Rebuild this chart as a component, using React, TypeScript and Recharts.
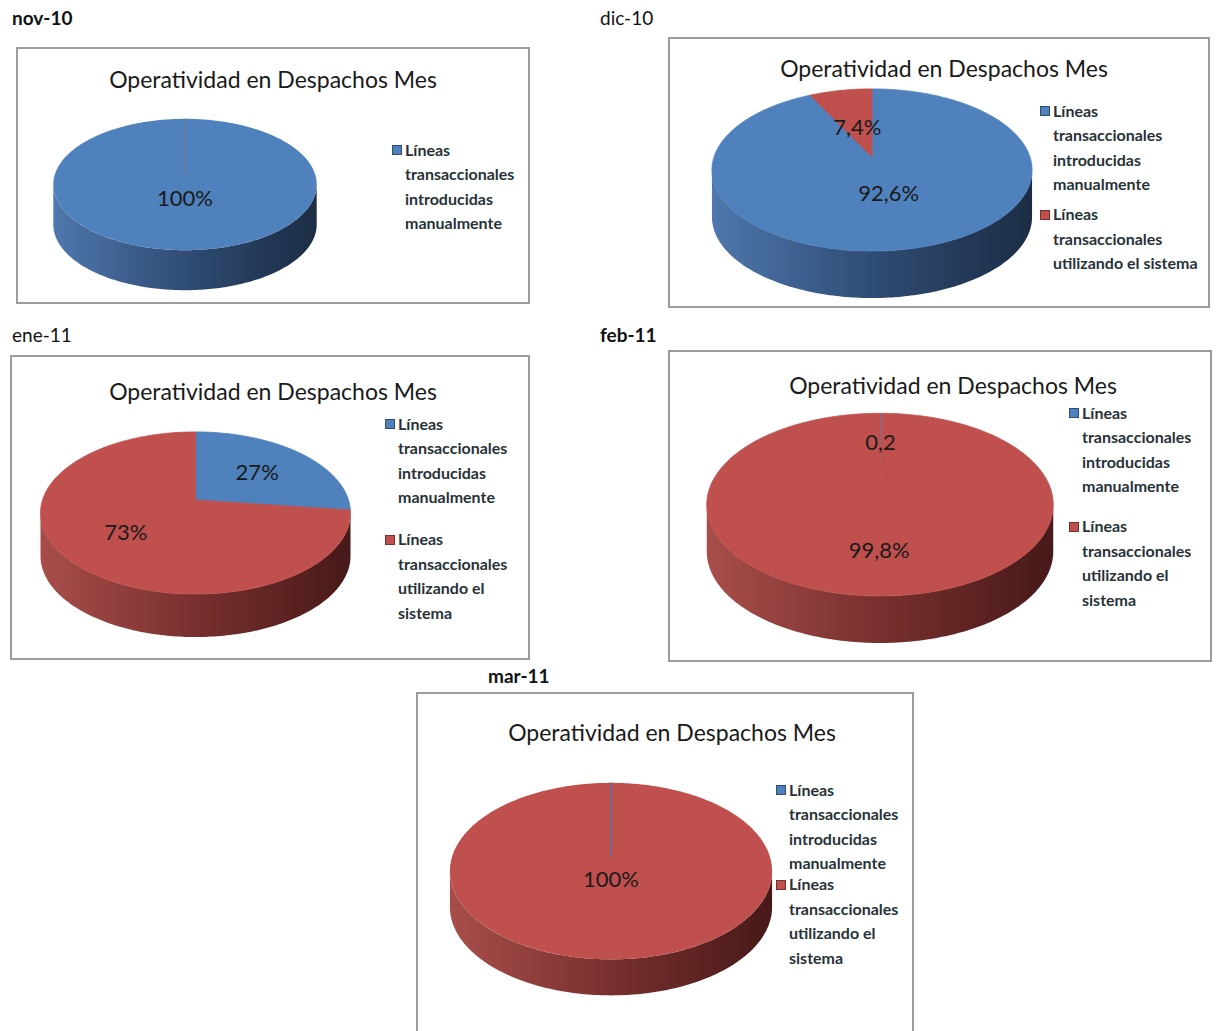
import React from "react";
import { PieChart, Pie, Cell, Legend } from "recharts";

const SERIES = [
  "Líneas transaccionales introducidas manualmente",
  "Líneas transaccionales utilizando el sistema",
];
const COLORS = ["#4f81bd", "#c0504d"];
const SIDE_COLORS = [
  ["#4f78ae", "#2f4c74", "#1c2c44"],
  ["#a84e4b", "#78302e", "#461918"],
];
const TITLE = "Operatividad en Despachos Mes";

const nov10Values = [100];
const nov10Labels = ["100%"];
const dic10Values = [92.6, 7.4];
const dic10Labels = ["92,6%", "7,4%"];
const ene11Values = [27, 73];
const ene11Labels = ["27%", "73%"];
const feb11Values = [0.2, 99.8];
const feb11Labels = ["0,2", "99,8%"];
const mar11Values = [0, 100];
const mar11Labels = ["", "100%"];

const FONT = "Lato, 'Open Sans', sans-serif";
const LINE_H = 24.4;
const PERSP = 0.16;
// angle where the side wall turns away from the viewer
const EDGE = (Math.asin(PERSP) * 180) / Math.PI;

type Geo = { cx: number; cy: number; rx: number; ry: number };

const panels = [
  {
    id: "nov10", month: "nov-10", bold: true, monthX: 12, monthY: 18,
    values: nov10Values, labels: nov10Labels,
    box: { x: 16, y: 47, w: 514, h: 257 }, titleX: 257, titleY: 32,
    pie: { cx: 169, cy: 127, rx: 130, ry: 64, depth: 40, labelR: 0.34, seam: "#6d7b91" },
    legend: { x: 376, y: 103, gap: 0, wrap: [[1, 1, 1, 1], [1, 1, 2, 1]] },
  },
  {
    id: "dic10", month: "dic-10", bold: false, monthX: 600, monthY: 18,
    values: dic10Values, labels: dic10Labels,
    box: { x: 668, y: 37, w: 542, h: 271 }, titleX: 276, titleY: 31,
    pie: { cx: 204, cy: 120, rx: 158, ry: 79, depth: 47, labelR: 0.43, seam: "#6d7b91" },
    legend: { x: 372, y: 74, gap: 6, wrap: [[1, 1, 1, 1], [1, 1, 3]] },
  },
  {
    id: "ene11", month: "ene-11", bold: false, monthX: 12, monthY: 335,
    values: ene11Values, labels: ene11Labels,
    box: { x: 10, y: 355, w: 520, h: 305 }, titleX: 263, titleY: 36,
    pie: { cx: 185.5, cy: 145, rx: 153, ry: 79, depth: 43, labelR: 0.57, seam: "#6d7b91" },
    legend: { x: 375, y: 69, gap: 18, wrap: [[1, 1, 1, 1], [1, 1, 2, 1]] },
  },
  {
    id: "feb11", month: "feb-11", bold: true, monthX: 600, monthY: 335,
    values: feb11Values, labels: feb11Labels,
    box: { x: 668, y: 350, w: 544, h: 312 }, titleX: 285, titleY: 35,
    pie: { cx: 212, cy: 140, rx: 171, ry: 89, depth: 47, labelR: 0.6, seam: "#5a6f96" },
    legend: { x: 401, y: 63, gap: 16, wrap: [[1, 1, 1, 1], [1, 1, 2, 1]] },
  },
  {
    id: "mar11", month: "mar-11", bold: true, monthX: 488, monthY: 676,
    values: mar11Values, labels: mar11Labels,
    box: { x: 416, y: 692, w: 498, h: 345 }, titleX: 256, titleY: 40,
    pie: { cx: 195, cy: 165, rx: 159, ry: 86, depth: 36, labelR: 0.24, seam: "#55709a" },
    legend: { x: 360, y: 98, gap: -3, wrap: [[1, 1, 1, 1], [1, 1, 2, 1]] },
  },
];

type Panel = (typeof panels)[number];

const project = (g: Geo, r: number, deg: number): [number, number] => {
  const a = (deg * Math.PI) / 180;
  const X = r * Math.cos(a);
  const Z = -r * Math.sin(a);
  const s = 1 / (1 - PERSP * Z);
  return [g.cx + g.rx * X * s, g.cy + g.ry * Z * s];
};

const arc = (g: Geo, from: number, to: number) => {
  const n = Math.max(2, Math.ceil(Math.abs(to - from)));
  const pts: [number, number][] = [];
  for (let i = 0; i <= n; i++) pts.push(project(g, 1, from + ((to - from) * i) / n));
  return pts;
};

const toPath = (pts: [number, number][]) =>
  pts.map(([x, y], i) => `${i ? "L" : "M"}${x.toFixed(2)},${y.toFixed(2)}`).join("");

/** top face of one slice */
const makeTop = (panel: Panel) => (props: any) => {
  const { cx, cy, outerRadius, startAngle, endAngle, fill } = props;
  const g = { cx, cy, rx: outerRadius, ry: panel.pie.ry };
  const span = Math.abs(startAngle - endAngle);
  const start = project(g, 1, startAngle);
  if (span >= 359.9) {
    return (
      <g>
        <path d={toPath(arc(g, 90, -270)) + "Z"} fill={fill} />
        <line x1={cx} y1={cy} x2={start[0]} y2={start[1]} stroke={panel.pie.seam} strokeWidth={1.5} />
      </g>
    );
  }
  if (span < 0.01) {
    return <line x1={cx} y1={cy} x2={start[0]} y2={start[1]} stroke={fill} strokeWidth={1.5} />;
  }
  const pts = arc(g, startAngle, endAngle);
  return (
    <path
      d={`M${cx},${cy}` + toPath(pts).replace(/^M/, "L") + "Z"}
      fill={fill}
      stroke={fill}
      strokeWidth={0.8}
      strokeLinejoin="round"
    />
  );
};

/** visible side wall of one slice */
const makeSide = (panel: Panel) => (props: any) => {
  const { cx, cy, outerRadius, startAngle, endAngle, fill } = props;
  const lo = Math.max(Math.min(startAngle, endAngle), -180 + EDGE);
  const hi = Math.min(Math.max(startAngle, endAngle), -EDGE);
  if (hi - lo <= 0) return <g />;
  const g = { cx, cy, rx: outerRadius, ry: panel.pie.ry };
  const top = arc(g, lo, hi);
  const bottom = top.map(([x, y]) => [x, y + panel.pie.depth] as [number, number]).reverse();
  const ci = Math.max(0, COLORS.indexOf(fill));
  const gid = `${panel.id}-side-${ci}`;
  const stops = SIDE_COLORS[ci];
  return (
    <g>
      <defs>
        <linearGradient
          id={gid}
          gradientUnits="userSpaceOnUse"
          x1={cx - outerRadius * 1.02}
          x2={cx + outerRadius * 1.02}
          y1={0}
          y2={0}
        >
          <stop offset="0" stopColor={stops[0]} />
          <stop offset="0.5" stopColor={stops[1]} />
          <stop offset="1" stopColor={stops[2]} />
        </linearGradient>
      </defs>
      <path d={toPath([...top, ...bottom]) + "Z"} fill={`url(#${gid})`} />
    </g>
  );
};

const makeLabel = (panel: Panel) => (props: any) => {
  const { cx, cy, midAngle, outerRadius, index } = props;
  const text = panel.labels[index];
  if (!text) return null;
  const [x, y] = project({ cx, cy, rx: outerRadius, ry: panel.pie.ry }, panel.pie.labelR, midAngle);
  return (
    <text
      x={x}
      y={y}
      textAnchor="middle"
      dominantBaseline="central"
      fontFamily={FONT}
      fontSize={22}
      fill="#1a1a1a"
    >
      {text}
    </text>
  );
};

const splitLines = (name: string, counts: number[]) => {
  const words = name.split(" ");
  const lines: string[] = [];
  let k = 0;
  counts.forEach((c) => {
    lines.push(words.slice(k, k + c).join(" "));
    k += c;
  });
  return lines;
};

const makeLegend = (panel: Panel) => (props: any) => {
  const payload = props.payload || [];
  // one entry per series (both pies report the same names)
  const names: string[] = [];
  payload.forEach((entry: any) => {
    const n = String(entry.value);
    if (entry.type !== "none" && SERIES.includes(n) && !names.includes(n)) names.push(n);
  });
  return (
    <div style={{ fontFamily: FONT, fontSize: 16, fontWeight: 700, color: "#263238" }}>
      {names.map((name, i) => {
        const si = SERIES.indexOf(name);
        const lines = splitLines(name, panel.legend.wrap[si]);
        return (
          <div key={name} style={{ position: "relative", paddingLeft: 13, marginTop: i ? panel.legend.gap : 0 }}>
            <span
              style={{
                position: "absolute",
                left: 0,
                top: (LINE_H - 10) / 2,
                width: 8,
                height: 8,
                background: COLORS[si],
                border: `1px solid ${SIDE_COLORS[si][1]}`,
              }}
            />
            {lines.map((l, j) => (
              <div key={j} style={{ height: LINE_H, lineHeight: `${LINE_H}px`, whiteSpace: "nowrap" }}>
                {l}
              </div>
            ))}
          </div>
        );
      })}
    </div>
  );
};

const PanelChart: React.FC<{ panel: Panel }> = ({ panel }) => {
  const data = panel.values.map((v, i) => ({ name: SERIES[i], value: v }));
  const { box, pie } = panel;
  return (
    <>
      <div
        style={{
          position: "absolute",
          left: panel.monthX,
          top: panel.monthY - 11,
          height: 22,
          lineHeight: "22px",
          fontFamily: FONT,
          fontSize: 19,
          fontWeight: panel.bold ? 700 : 400,
          color: "#111",
          whiteSpace: "nowrap",
        }}
      >
        {panel.month}
      </div>
      <div
        style={{
          position: "absolute",
          left: box.x,
          top: box.y,
          width: box.w,
          height: box.h,
          boxSizing: "border-box",
          border: "2px solid #9c9c9c",
          background: "#fff",
        }}
      />
      <div style={{ position: "absolute", left: box.x, top: box.y, width: box.w, height: box.h }}>
        <div
          style={{
            position: "absolute",
            left: panel.titleX - 200,
            width: 400,
            top: panel.titleY - 15,
            height: 30,
            lineHeight: "30px",
            textAlign: "center",
            fontFamily: FONT,
            fontSize: 23,
            color: "#1a1a1a",
            zIndex: 2,
          }}
        >
          {TITLE}
        </div>
        <PieChart width={box.w} height={box.h} margin={{ top: 0, right: 0, bottom: 0, left: 0 }}>
          <Pie
            data={data}
            dataKey="value"
            nameKey="name"
            cx={pie.cx}
            cy={pie.cy}
            outerRadius={pie.rx}
            startAngle={90}
            endAngle={-270}
            legendType="none"
            isAnimationActive={false}
            shape={makeSide(panel)}
            inactiveShape={makeSide(panel)}
            activeShape={makeSide(panel)}
          >
            {data.map((d, i) => (
              <Cell key={i} fill={COLORS[i]} />
            ))}
          </Pie>
          <Pie
            data={data}
            dataKey="value"
            nameKey="name"
            cx={pie.cx}
            cy={pie.cy}
            outerRadius={pie.rx}
            startAngle={90}
            endAngle={-270}
            isAnimationActive={false}
            labelLine={false}
            label={makeLabel(panel)}
            shape={makeTop(panel)}
            inactiveShape={makeTop(panel)}
            activeShape={makeTop(panel)}
          >
            {data.map((d, i) => (
              <Cell key={i} fill={COLORS[i]} />
            ))}
          </Pie>
          <Legend
            layout="vertical"
            align="right"
            verticalAlign="top"
            content={makeLegend(panel)}
            wrapperStyle={{
              left: panel.legend.x,
              top: panel.legend.y - LINE_H / 2,
              width: 175,
              right: "auto",
            }}
          />
        </PieChart>
      </div>
    </>
  );
};

export default function App() {
  return (
    <div
      style={{
        position: "absolute",
        left: 0,
        top: 0,
        width: 1216,
        height: 1031,
        overflow: "hidden",
        background: "#fff",
      }}
    >
      {panels.map((p) => (
        <PanelChart key={p.id} panel={p} />
      ))}
    </div>
  );
}
